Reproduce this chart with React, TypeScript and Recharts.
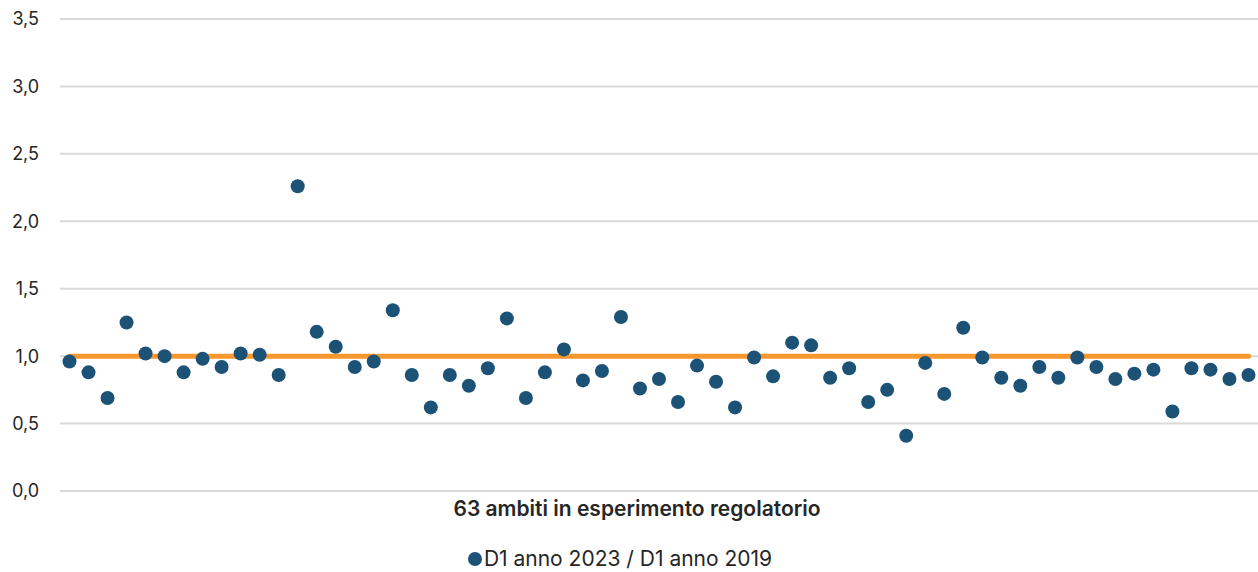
import React from 'react'
import {
  ComposedChart,
  Line,
  XAxis,
  YAxis,
  CartesianGrid,
  ReferenceLine,
  Legend,
} from 'recharts'

// rapporto D1 2023 / D1 2019 per ciascuno dei 63 ambiti
const RAPPORTI = [
  0.96, 0.88, 0.69, 1.25, 1.02, 1.0, 0.88, 0.98, 0.92, 1.02,
  1.01, 0.86, 2.26, 1.18, 1.07, 0.92, 0.96, 1.34, 0.86, 0.62,
  0.86, 0.78, 0.91, 1.28, 0.69, 0.88, 1.05, 0.82, 0.89, 1.29,
  0.76, 0.83, 0.66, 0.93, 0.81, 0.62, 0.99, 0.85, 1.1, 1.08,
  0.84, 0.91, 0.66, 0.75, 0.41, 0.95, 0.72, 1.21, 0.99, 0.84,
  0.78, 0.92, 0.84, 0.99, 0.92, 0.83, 0.87, 0.9, 0.59, 0.91,
  0.9, 0.83, 0.86,
]
const AMBITI = RAPPORTI.map((_, i) => `A${i + 1}`)
const Y_TICKS = [0, 0.5, 1, 1.5, 2, 2.5, 3, 3.5]
const SOGLIA = 1
const SERIE = 'D1 anno 2023 / D1 anno 2019'
const TITOLO_X = '63 ambiti in esperimento regolatorio'

const BLU = '#1B5276'
const ARANCIO = '#F7972C'
const TESTO = '#262626'
const FONT = 'Inter, Lato, sans-serif'

const data = AMBITI.map((a, i) => ({ ambito: a, valore: RAPPORTI[i] }))

function LegendaPunti() {
  return (
    <div
      style={{
        display: 'flex',
        justifyContent: 'center',
        alignItems: 'center',
        fontFamily: FONT,
        fontSize: 21,
        lineHeight: '26px',
        color: TESTO,
        position: 'relative',
        left: -9,
      }}
    >
      <span
        style={{
          width: 14,
          height: 14,
          borderRadius: '50%',
          background: BLU,
          display: 'inline-block',
          marginRight: 2,
        }}
      />
      <span>{SERIE}</span>
    </div>
  )
}

export default function App() {
  return (
    <div style={{ position: 'absolute', left: 0, top: 0, background: '#fff' }}>
      <ComposedChart
        width={1258}
        height={572}
        data={data}
        margin={{ top: 19, right: 0, left: 0, bottom: 0 }}
      >
        <CartesianGrid vertical={false} stroke="#D9D9D9" strokeWidth={2} />
        <XAxis
          dataKey="ambito"
          scale="band"
          tick={false}
          tickLine={false}
          axisLine={false}
          height={55}
          label={{
            value: TITOLO_X,
            position: 'insideTop',
            offset: 10,
            dx: -22,
            fill: TESTO,
            fontFamily: FONT,
            fontSize: 21,
            fontWeight: 600,
          }}
        />
        <YAxis
          domain={[0, 3.5]}
          ticks={Y_TICKS}
          width={60}
          axisLine={false}
          tickLine={false}
          tickSize={0}
          tickMargin={21}
          tickFormatter={(v: number) => v.toFixed(1).replace('.', ',')}
          tick={{ fill: TESTO, fontFamily: FONT, fontSize: 18 }}
        />
        <ReferenceLine
          segment={[
            { x: AMBITI[0], y: SOGLIA },
            { x: AMBITI[AMBITI.length - 1], y: SOGLIA },
          ]}
          stroke={ARANCIO}
          strokeWidth={5}
          strokeLinecap="round"
        />
        <Line
          dataKey="valore"
          name={SERIE}
          stroke="none"
          dot={{ r: 7, fill: BLU, stroke: 'none' }}
          activeDot={false}
          isAnimationActive={false}
        />
        <Legend verticalAlign="bottom" height={26} content={() => <LegendaPunti />} />
      </ComposedChart>
    </div>
  )
}
